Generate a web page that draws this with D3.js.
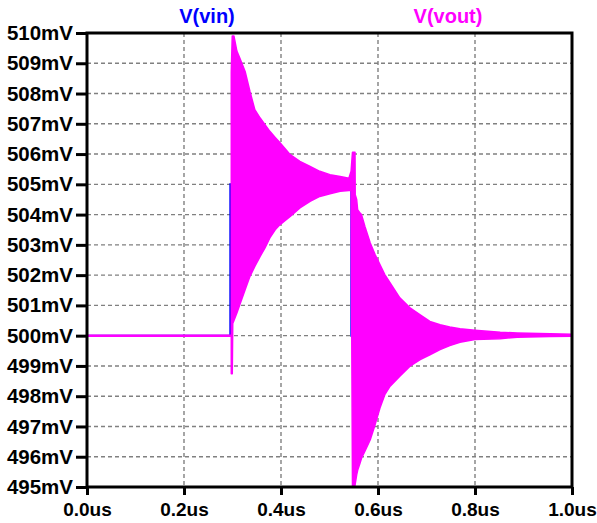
<!DOCTYPE html>
<html>
<head>
<meta charset="utf-8">
<script src="https://cdn.jsdelivr.net/npm/d3@7"></script>
<style>
  body { margin: 0; background: #fff; }
  text { font-family: "Liberation Sans", Arial, sans-serif; font-weight: bold; }
</style>
</head>
<body>
<div id="vis"></div>
<script>
// frame size and plot margins
const WIDTH = 597;
const HEIGHT = 523;
const MARG = {left: 87, right: 25, top: 33, bottom: 36};
const VIS_WIDTH = WIDTH - MARG.left - MARG.right;
const VIS_HEIGHT = HEIGHT - MARG.top - MARG.bottom;

// tick values
const X_TICKS = [0, 0.2, 0.4, 0.6, 0.8, 1.0];
const Y_TICKS = [495, 496, 497, 498, 499, 500, 501, 502, 503, 504, 505, 506, 507, 508, 509, 510];

// V(vin): pulse input (time in us, value in mV)
const VIN_T = [0, 0.2955, 0.2955, 0.5450, 0.5450, 1.0];
const VIN_V = [500, 500, 505, 505, 500, 500];

// V(vout): flat part before the first edge
const VOUT_FLAT_T = [0, 0.2975];
const VOUT_FLAT_V = [500, 500];

// V(vout): ringing envelope (time, upper, lower)
const VOUT_T = [0.2975, 0.2995, 0.3005, 0.303, 0.309, 0.315, 0.326, 0.336, 0.346, 0.357,
  0.367, 0.377, 0.388, 0.398, 0.419, 0.439, 0.46, 0.48, 0.501, 0.522,
  0.540, 0.5445, 0.5474, 0.5526, 0.553, 0.556, 0.558, 0.563, 0.566, 0.573,
  0.584, 0.594, 0.604, 0.614, 0.625, 0.645, 0.666, 0.687, 0.707, 0.728,
  0.748, 0.769, 0.8, 0.852, 0.887, 0.955, 1.0];
const VOUT_UP = [508.7, 509.9, 509.9, 509.9, 509.4, 509.17, 508.73, 508.07, 507.47, 507.19,
  506.97, 506.75, 506.55, 506.37, 505.98, 505.76, 505.59, 505.43, 505.32, 505.26,
  505.2, 505.43, 506.06, 506.06, 504.66, 504.5, 504.16, 504.05, 504.0, 503.61,
  503.06, 502.68, 502.35, 502.02, 501.74, 501.25, 500.92, 500.69, 500.47, 500.36,
  500.29, 500.23, 500.18, 500.11, 500.09, 500.06, 500.05];
const VOUT_LO = [498.74, 498.74, 500.4, 500.5, 500.75, 501.02, 501.52, 501.96, 502.29, 502.62,
  502.9, 503.23, 503.5, 503.67, 503.94, 504.22, 504.44, 504.6, 504.69, 504.77,
  504.8, 504.8, 495.04, 495.04, 495.1, 495.4, 495.55, 495.79, 495.95, 496.18,
  496.56, 497.06, 497.61, 498.05, 498.33, 498.66, 498.99, 499.21, 499.37, 499.54,
  499.67, 499.78, 499.87, 499.9, 499.95, 499.97, 499.98];

const FRAME = d3.select("#vis")
  .append("svg")
    .attr("width", WIDTH)
    .attr("height", HEIGHT);

const X_SCALE = d3.scaleLinear().domain([0, 1]).range([MARG.left, MARG.left + VIS_WIDTH]);
const Y_SCALE = d3.scaleLinear().domain([495, 510]).range([MARG.top + VIS_HEIGHT, MARG.top]);

// dashed grid
FRAME.append("g")
  .selectAll("line")
  .data(X_TICKS.slice(1, -1))
  .enter().append("line")
    .attr("x1", (d) => X_SCALE(d)).attr("x2", (d) => X_SCALE(d))
    .attr("y1", MARG.top).attr("y2", MARG.top + VIS_HEIGHT)
    .attr("stroke", "#808080").attr("stroke-width", 1.4)
    .attr("stroke-dasharray", "4,3");
FRAME.append("g")
  .selectAll("line")
  .data(Y_TICKS.slice(1, -1))
  .enter().append("line")
    .attr("y1", (d) => Y_SCALE(d)).attr("y2", (d) => Y_SCALE(d))
    .attr("x1", MARG.left).attr("x2", MARG.left + VIS_WIDTH)
    .attr("stroke", "#808080").attr("stroke-width", 1.4)
    .attr("stroke-dasharray", "4,3");

// traces
const vinData = VIN_T.map((t, i) => ({t: t, v: VIN_V[i]}));
FRAME.append("path")
  .datum(vinData)
  .attr("fill", "none")
  .attr("stroke", "#0000ff")
  .attr("stroke-width", 2)
  .attr("d", d3.line().x((d) => X_SCALE(d.t)).y((d) => Y_SCALE(d.v)));

const flatData = VOUT_FLAT_T.map((t, i) => ({t: t, v: VOUT_FLAT_V[i]}));
FRAME.append("path")
  .datum(flatData)
  .attr("fill", "none")
  .attr("stroke", "#ff00ff")
  .attr("stroke-width", 2.5)
  .attr("d", d3.line().x((d) => X_SCALE(d.t)).y((d) => Y_SCALE(d.v)));

const ringData = VOUT_T.map((t, i) => ({t: t, up: VOUT_UP[i], lo: VOUT_LO[i]}));
FRAME.append("path")
  .datum(ringData)
  .attr("fill", "#ff00ff")
  .attr("stroke", "#ff00ff")
  .attr("stroke-width", 1.5)
  .attr("stroke-linejoin", "round")
  .attr("d", d3.area()
    .x((d) => X_SCALE(d.t))
    .y0((d) => Y_SCALE(d.lo))
    .y1((d) => Y_SCALE(d.up)));

// plot box
FRAME.append("rect")
  .attr("x", MARG.left).attr("y", MARG.top)
  .attr("width", VIS_WIDTH).attr("height", VIS_HEIGHT)
  .attr("fill", "none").attr("stroke", "#000").attr("stroke-width", 3);

// axes
const yAxis = FRAME.append("g")
  .attr("transform", "translate(" + MARG.left + ",0)")
  .call(d3.axisLeft(Y_SCALE).tickValues(Y_TICKS).tickSize(11).tickPadding(3)
    .tickFormat((d) => d + "mV"));
const xAxis = FRAME.append("g")
  .attr("transform", "translate(0," + (MARG.top + VIS_HEIGHT) + ")")
  .call(d3.axisBottom(X_SCALE).tickValues(X_TICKS).tickSize(8).tickPadding(8)
    .tickFormat((d) => d3.format(".1f")(d) + "us"));
[yAxis, xAxis].forEach((g) => {
  g.select(".domain").remove();
  g.selectAll(".tick line").attr("stroke", "#000").attr("stroke-width", 3);
  g.selectAll("text").attr("fill", "#000")
    .attr("font-family", "Liberation Sans, Arial, sans-serif").attr("font-weight", "bold");
});
yAxis.selectAll("text").attr("font-size", "20.5px");
xAxis.selectAll("text").attr("font-size", "19px");

// trace labels
FRAME.append("text")
  .attr("x", 207).attr("y", 23)
  .attr("text-anchor", "middle").attr("font-size", "20px")
  .attr("fill", "#0000ff").text("V(vin)");
FRAME.append("text")
  .attr("x", 448).attr("y", 23)
  .attr("text-anchor", "middle").attr("font-size", "20px")
  .attr("fill", "#ff00ff").text("V(vout)");
</script>
</body>
</html>
